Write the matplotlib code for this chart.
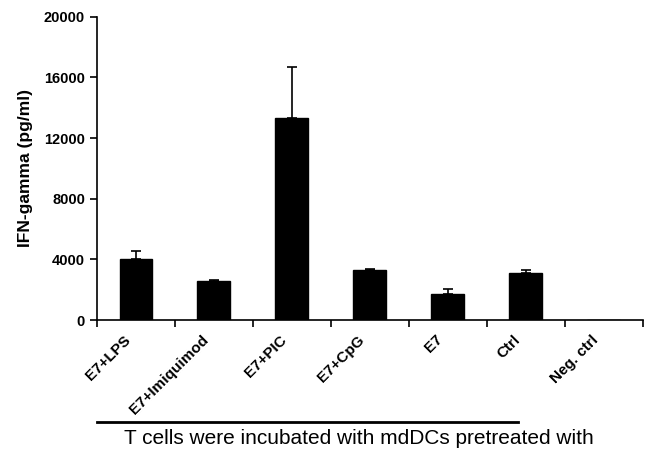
import matplotlib.pyplot as plt

plt.rcParams['font.family'] = ['Liberation Sans', 'DejaVu Sans']

categories = ["E7+LPS", "E7+Imiquimod", "E7+PIC", "E7+CpG", "E7", "Ctrl", "Neg. ctrl"]
values = [4050, 2580, 13300, 3280, 1700, 3100, 0]
errors = [480, 50, 3400, 60, 330, 170, 0]

fig = plt.figure(figsize=(6.46, 4.54), dpi=100)
ax = fig.add_axes([0.150, 0.295, 0.845, 0.668])

x = list(range(len(categories)))
ax.bar(x, values, width=0.42, color="black", edgecolor="black")
ax.errorbar(x[:-1], values[:-1], yerr=[[0] * (len(x) - 1), errors[:-1]],
            fmt="none", ecolor="black", elinewidth=1.2, capsize=3.5, capthick=1.2)

ax.set_xlim(-0.5, len(categories) - 0.5)
ax.set_ylim(0, 20000)
ax.set_yticks([0, 4000, 8000, 12000, 16000, 20000])
ax.set_xticks([i - 0.5 for i in range(len(categories) + 1)])
ax.set_xticklabels([])
# labels sit a little left of the bar centres, as in the original
ax.set_xticks([i - 0.16 for i in x], minor=True)
ax.set_xticklabels(categories, minor=True, rotation=45, ha="right",
                   rotation_mode="anchor", fontsize=11, fontweight="bold")
ax.tick_params(axis="x", which="minor", length=0, pad=9)
ax.tick_params(axis="x", which="major", length=5, width=1.2, direction="out")
ax.tick_params(axis="y", length=5, width=1.2, direction="out", labelsize=10.5)
for lab in ax.get_yticklabels():
    lab.set_fontweight("bold")

for s in ["top", "right"]:
    ax.spines[s].set_visible(False)
for s in ["left", "bottom"]:
    ax.spines[s].set_linewidth(1.2)

ax.set_ylabel("IFN-gamma (pg/ml)", fontsize=12.5, fontweight="bold", labelpad=8)

# bracket line under the treated groups
fig.add_artist(plt.Line2D([97 / 646, 518 / 646], [1 - 422 / 454, 1 - 422 / 454],
                          color="black", linewidth=2))
fig.text(359 / 646, 1 - 438 / 454, "T cells were incubated with mdDCs pretreated with",
         ha="center", va="center", fontsize=15)

fig.savefig("out.png", dpi=100)
